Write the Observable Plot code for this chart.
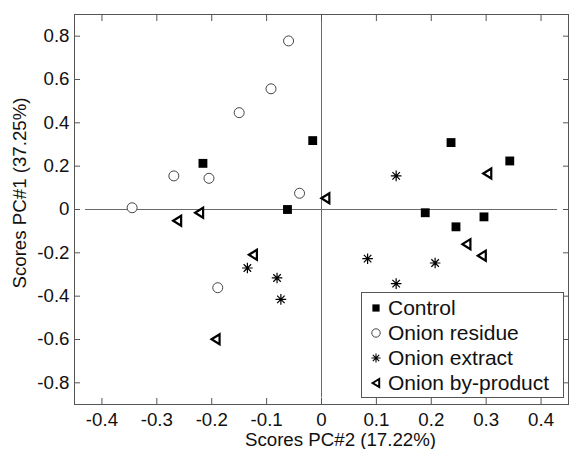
<!DOCTYPE html>
<html><head><meta charset="utf-8">
<script src="https://cdn.jsdelivr.net/npm/d3@7"></script>
<script src="https://cdn.jsdelivr.net/npm/@observablehq/plot@0.6"></script>
<style>
body{margin:0;background:#fff;}
#chart{position:relative;width:569px;height:449px;font-family:"Liberation Sans",Arial,sans-serif;}
#legend{position:absolute;left:361px;top:292px;width:201px;height:104px;border:1px solid #555;background:#fff;}
.row{position:absolute;left:0;height:25px;display:flex;align-items:center;font-size:21px;color:#111;white-space:nowrap;}
.row svg{margin-left:8px;margin-right:6px;}
</style>
</head><body>
<div id="chart"></div>
<script>
// ---- data ----
const seriesNames = ["Control", "Onion residue", "Onion extract", "Onion by-product"];
const controlX   = [-0.216, -0.016, -0.062, 0.236, 0.343, 0.189, 0.245, 0.296];
const controlY   = [ 0.213,  0.318,  0.000, 0.309, 0.224, -0.015, -0.080, -0.034];
const residueX   = [-0.060, -0.092, -0.150, -0.269, -0.205, -0.040, -0.345, -0.189];
const residueY   = [ 0.778,  0.557,  0.447,  0.155,  0.144,  0.075,  0.008, -0.361];
const extractX   = [ 0.136,  0.084,  0.207,  0.136, -0.135, -0.081, -0.074];
const extractY   = [ 0.155, -0.227, -0.247, -0.342, -0.270, -0.316, -0.415];
const byproductX = [-0.263, -0.223,  0.007, -0.125, -0.193,  0.302,  0.264,  0.292];
const byproductY = [-0.052, -0.015,  0.052, -0.209, -0.599,  0.166, -0.160, -0.213];
const xTicks = [-0.4, -0.3, -0.2, -0.1, 0, 0.1, 0.2, 0.3, 0.4];
const yTicks = [-0.8, -0.6, -0.4, -0.2, 0, 0.2, 0.4, 0.6, 0.8];
const xDomain = [-0.45, 0.45];
const yDomain = [-0.9, 0.9];
const zeroLineX = [-0.43, 0.43];
const zeroLineY = [-0.87, 0.87];
const xTitle = "Scores PC#2 (17.22%)";
const yTitle = "Scores PC#1 (37.25%)";

const pts = (xs, ys) => xs.map((x, i) => ({x, y: ys[i]}));
const control = pts(controlX, controlY);
const residue = pts(residueX, residueY);
const extract = pts(extractX, extractY);
const byproduct = pts(byproductX, byproductY);

// custom symbols
const asterisk = {draw(ctx, size) {
  const r = Math.sqrt(size / Math.PI), d = r * Math.SQRT1_2;
  ctx.moveTo(-r, 0); ctx.lineTo(r, 0);
  ctx.moveTo(0, -r); ctx.lineTo(0, r);
  ctx.moveTo(-d, -d); ctx.lineTo(d, d);
  ctx.moveTo(-d, d); ctx.lineTo(d, -d);
}};
const triLeft = {draw(ctx, size) {
  const r = Math.sqrt(size / Math.PI);
  ctx.moveTo(-0.8 * r, 0); ctx.lineTo(0.8 * r, -r); ctx.lineTo(0.8 * r, r); ctx.closePath();
}};

const fmt = d => String(d);
const axisColor = "#555";
const font = 18.7;

const plot = Plot.plot({
  width: 569, height: 449,
  marginLeft: 74, marginRight: 1, marginTop: 14, marginBottom: 45,
  style: {fontFamily: '"Liberation Sans", Arial, sans-serif', background: "transparent", color: "#111"},
  x: {domain: xDomain},
  y: {domain: yDomain},
  marks: [
    Plot.ruleY([0], {x1: zeroLineX[0], x2: zeroLineX[1], stroke: "#6a6a6a", strokeWidth: 1}),
    Plot.ruleX([0], {y1: zeroLineY[0], y2: zeroLineY[1], stroke: "#6a6a6a", strokeWidth: 1}),
    Plot.frame({stroke: axisColor, strokeWidth: 1}),
    // inward ticks on all sides
    Plot.axisX({anchor: "bottom", ticks: xTicks, tickSize: -6, tickFormat: () => "", label: null, stroke: axisColor}),
    Plot.axisX({anchor: "top", ticks: xTicks, tickSize: -6, tickFormat: () => "", label: null, stroke: axisColor}),
    Plot.axisY({anchor: "left", ticks: yTicks, tickSize: -6, tickFormat: () => "", label: null, stroke: axisColor}),
    Plot.axisY({anchor: "right", ticks: yTicks, tickSize: -6, tickFormat: () => "", label: null, stroke: axisColor}),
    // tick labels
    Plot.axisX({anchor: "bottom", ticks: xTicks, tickSize: 0, tickPadding: 8, tickFormat: fmt, label: null, fontSize: font, fill: "#111"}),
    Plot.axisY({anchor: "left", ticks: yTicks, tickSize: 0, tickPadding: 5, tickFormat: fmt, label: null, fontSize: font, fill: "#111"}),
    // axis titles
    Plot.text([xTitle], {frameAnchor: "bottom", text: d => d, textAnchor: "middle", dx: 19, dy: 36, lineAnchor: "middle", fontSize: font, fill: "#111"}),
    Plot.text([yTitle], {frameAnchor: "left", text: d => d, textAnchor: "middle", rotate: -90, dx: -54, dy: -16.5, lineAnchor: "middle", fontSize: font, fill: "#111"}),
    // series
    Plot.dot(residue, {x: "x", y: "y", symbol: "circle", r: 5, fill: "white", stroke: "#444", strokeWidth: 1}),
    Plot.dot(control, {x: "x", y: "y", symbol: "square", r: 5, fill: "black", stroke: "none"}),
    Plot.dot(extract, {x: "x", y: "y", symbol: asterisk, r: 5.3, fill: "none", stroke: "black", strokeWidth: 1.2}),
    Plot.dot(byproduct, {x: "x", y: "y", symbol: triLeft, r: 5, fill: "white", stroke: "black", strokeWidth: 2.2, strokeLinejoin: "miter"})
  ]
});
const chart = document.getElementById("chart");
chart.appendChild(plot);

// legend
const legendSyms = [
  '<svg width="12" height="12" viewBox="-6 -6 12 12"><rect x="-3.6" y="-3.6" width="7.2" height="7.2" fill="black"/></svg>',
  '<svg width="12" height="12" viewBox="-6 -6 12 12"><circle r="4.2" fill="white" stroke="#444" stroke-width="1"/></svg>',
  '<svg width="12" height="12" viewBox="-6 -6 12 12"><path d="M-4.5,0H4.5M0,-4.5V4.5M-3.2,-3.2L3.2,3.2M-3.2,3.2L3.2,-3.2" stroke="black" stroke-width="1.1" fill="none"/></svg>',
  '<svg width="12" height="12" viewBox="-6 -6 12 12"><path d="M-3.4,0L3.2,-4L3.2,4Z" fill="white" stroke="black" stroke-width="2" stroke-linejoin="miter"/></svg>'
];
const legend = document.createElement("div");
legend.id = "legend";
seriesNames.forEach((name, i) => {
  const row = document.createElement("div");
  row.className = "row";
  row.style.top = (2 + i * 25) + "px";
  row.innerHTML = legendSyms[i] + "<span>" + name + "</span>";
  legend.appendChild(row);
});
chart.appendChild(legend);
</script>
</body></html>
